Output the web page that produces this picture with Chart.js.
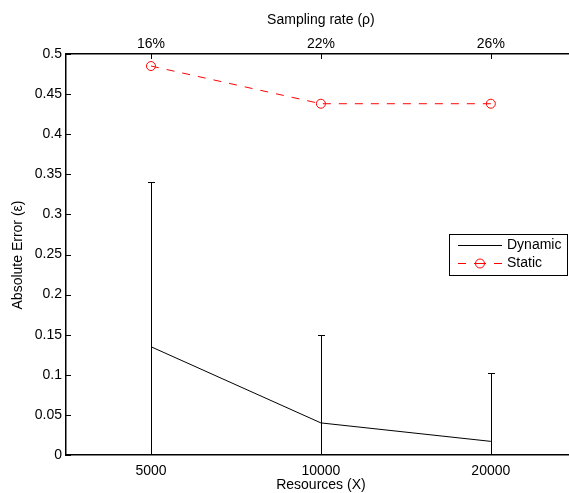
<!DOCTYPE html>
<html>
<head>
<meta charset="utf-8">
<script src="https://cdn.jsdelivr.net/npm/chart.js@4/dist/chart.umd.min.js"></script>
<style>
  html, body { margin: 0; padding: 0; background: #fff; overflow: hidden; }
  canvas { display: block; }
</style>
</head>
<body>
<canvas id="c" width="569" height="493"></canvas>
<script>
// Resource counts on the bottom axis, sampling rates on the top axis
const resources = ['5000', '10000', '20000'];
const samplingRates = ['16%', '22%', '26%'];

// Dynamic: mean absolute error with its error-bar bounds
const dynamicError = [0.135, 0.04, 0.017];
const dynamicUpper = [0.34, 0.15, 0.102];
const dynamicLower = [0, 0, 0];

// Static: absolute error
const staticError = [0.485, 0.438, 0.438];

// Y axis ticks
const yTicks = [0, 0.05, 0.1, 0.15, 0.2, 0.25, 0.3, 0.35, 0.4, 0.45, 0.5];

// x limits: the axes box runs past the right edge of the figure
const xMin = 0.5, xMax = 3.46;

const FONT = "'Liberation Sans', Arial, Helvetica, sans-serif";
Chart.defaults.font.family = FONT;
Chart.defaults.font.size = 14;
Chart.defaults.color = '#000';

const toPoints = arr => arr.map((v, i) => ({ x: i + 1, y: v }));
const catTicks = scale => { scale.ticks = resources.map((_, i) => ({ value: i + 1 })); };

// Inward ticks, axis titles, error bars and boxed legend
const decorations = {
  id: 'decorations',
  beforeDatasetsDraw(chart) {
    const { ctx } = chart;
    const x = chart.scales.x, y = chart.scales.y;
    // error bars for the Dynamic series
    ctx.save();
    ctx.strokeStyle = '#000';
    ctx.lineWidth = 1;
    ctx.beginPath();
    dynamicUpper.forEach((hi, i) => {
      const px = Math.round(x.getPixelForValue(i + 1)) + 0.5;
      const pyHi = Math.round(y.getPixelForValue(hi)) + 0.5;
      const pyLo = y.getPixelForValue(Math.max(dynamicLower[i], y.min));
      ctx.moveTo(px, pyLo);
      ctx.lineTo(px, pyHi);
      ctx.moveTo(px - 3.5, pyHi);
      ctx.lineTo(px + 3.5, pyHi);
    });
    ctx.stroke();
    ctx.restore();
  },
  afterDraw(chart) {
    const { ctx, chartArea: a } = chart;
    const x = chart.scales.x, y = chart.scales.y;
    ctx.save();
    ctx.strokeStyle = '#000';
    ctx.lineWidth = 1;
    ctx.beginPath();
    const tl = 5;
    yTicks.forEach(v => {
      const py = Math.round(y.getPixelForValue(v)) + 0.5;
      ctx.moveTo(a.left, py); ctx.lineTo(a.left + tl, py);
    });
    resources.forEach((_, i) => {
      const px = Math.round(x.getPixelForValue(i + 1)) + 0.5;
      ctx.moveTo(px, a.top); ctx.lineTo(px, a.top + tl);
      ctx.moveTo(px, a.bottom); ctx.lineTo(px, a.bottom - tl);
    });
    ctx.stroke();

    // axis titles
    ctx.fillStyle = '#000';
    ctx.font = '14px ' + FONT;
    ctx.textAlign = 'center';
    ctx.textBaseline = 'middle';
    const midX = x.getPixelForValue(2);
    ctx.fillText('Resources (X)', midX, 485);
    ctx.fillText('Sampling rate (\u03C1)', midX, 20);
    ctx.save();
    ctx.translate(18, 255);
    ctx.rotate(-Math.PI / 2);
    ctx.fillText('Absolute Error (\u03B5)', 0, 0);
    ctx.restore();

    // legend
    const ds = chart.data.datasets;
    const bx = 449.5, by = 234.5, bw = 118, bh = 41;
    ctx.fillStyle = '#fff';
    ctx.fillRect(bx, by, bw, bh);
    ctx.strokeStyle = '#000';
    ctx.lineWidth = 1;
    ctx.strokeRect(bx, by, bw, bh);
    const rows = [245, 263];
    const sx0 = 458, sx1 = 502;
    ds.forEach((d, i) => {
      const ry = rows[i] + 0.5;
      ctx.save();
      ctx.strokeStyle = d.borderColor;
      ctx.lineWidth = d.borderWidth;
      ctx.beginPath();
      if (d.borderDash) {
        ctx.moveTo(sx0, ry); ctx.lineTo(sx0 + 8, ry);
        ctx.moveTo(sx1 - 8, ry); ctx.lineTo(sx1, ry);
        ctx.moveTo(474, ry); ctx.lineTo(486, ry);
      } else {
        ctx.moveTo(sx0, ry); ctx.lineTo(sx1, ry);
      }
      ctx.stroke();
      if (d.pointRadius) {
        ctx.beginPath();
        ctx.arc((sx0 + sx1) / 2, ry, d.pointRadius, 0, Math.PI * 2);
        ctx.stroke();
      }
      ctx.restore();
      ctx.fillStyle = '#000';
      ctx.textAlign = 'left';
      ctx.textBaseline = 'middle';
      ctx.fillText(d.label, 507, rows[i] + 0.5);
    });
    ctx.restore();
  }
};

new Chart(document.getElementById('c'), {
  type: 'line',
  data: {
    datasets: [
      {
        label: 'Dynamic',
        data: toPoints(dynamicError),
        borderColor: '#000',
        borderWidth: 1,
        pointRadius: 0,
        fill: false,
        tension: 0
      },
      {
        label: 'Static',
        data: toPoints(staticError),
        borderColor: '#ff0000',
        borderWidth: 1,
        borderDash: [8, 8],
        pointRadius: 4.5,
        pointBorderWidth: 1,
        pointBorderColor: '#ff0000',
        pointBackgroundColor: 'rgba(0,0,0,0)',
        fill: false,
        tension: 0
      }
    ]
  },
  options: {
    responsive: false,
    animation: false,
    events: [],
    layout: { padding: 0, autoPadding: false },
    plugins: { legend: { display: false }, tooltip: { enabled: false } },
    scales: {
      x: {
        type: 'linear', position: 'bottom', min: xMin, max: xMax,
        afterBuildTicks: catTicks,
        afterFit: s => { s.height = 38; s.paddingLeft = 0; s.paddingRight = 0; },
        ticks: { padding: 8, maxRotation: 0, autoSkip: false,
                 callback: v => resources[Math.round(v) - 1] },
        grid: { drawOnChartArea: false, drawTicks: false, color: '#000' },
        border: { display: true, color: '#000', width: 1.5 }
      },
      x2: {
        type: 'linear', position: 'top', min: xMin, max: xMax,
        afterBuildTicks: catTicks,
        afterFit: s => { s.height = 54; s.paddingLeft = 0; s.paddingRight = 0; },
        ticks: { padding: 1, maxRotation: 0, autoSkip: false,
                 callback: v => samplingRates[Math.round(v) - 1] },
        grid: { drawOnChartArea: false, drawTicks: false, color: '#000' },
        border: { display: true, color: '#000', width: 1.5 }
      },
      y: {
        min: 0, max: 0.5,
        afterBuildTicks: s => { s.ticks = yTicks.map(v => ({ value: v })); },
        afterFit: s => { s.width = 66; },
        ticks: { padding: 4, callback: v => String(Number(v.toFixed(2))) },
        grid: { drawOnChartArea: false, drawTicks: false, color: '#000' },
        border: { display: true, color: '#000', width: 1.5 }
      }
    }
  },
  plugins: [decorations]
});
</script>
</body>
</html>
